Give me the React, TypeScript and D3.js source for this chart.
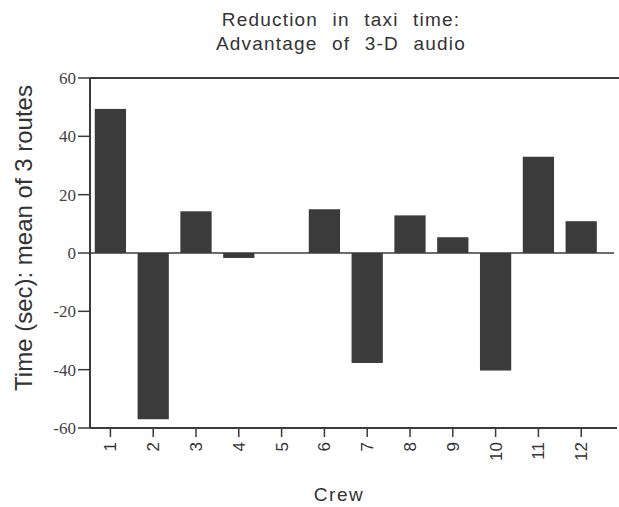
import React from 'react';
import * as d3 from 'd3';

const crews = ['1', '2', '3', '4', '5', '6', '7', '8', '9', '10', '11', '12'];
const reduction = [49.4, -57, 14.3, -1.7, 0, 15, -37.7, 12.9, 5.4, -40.3, 33, 10.9];
const yTicks = [-60, -40, -20, 0, 20, 40, 60];

const titleLines = ['Reduction in taxi time:', 'Advantage of 3-D audio'];
const yLabel = 'Time (sec): mean of 3 routes';
const xLabel = 'Crew';

const width = 619;
const height = 507;
const margin = { top: 78, right: 5, bottom: 79, left: 90 };
const ink = '#3b3b3b';
const sans = 'Liberation Sans, Arial, Helvetica, sans-serif';

const App = () => {
    const y = d3.scaleLinear()
        .domain([-60, 60])
        .range([height - margin.bottom, margin.top]);

    const x = d3.scaleBand<string>()
        .domain(crews)
        .range([margin.left - 1, margin.left - 1 + 12 * 42.8])
        .paddingInner(0.27)
        .paddingOuter(0.135);

    const plotRight = width - margin.right;
    const plotBottom = y(-60);

    return (
        <svg width={width} height={height} style={{ position: 'absolute', left: 0, top: 0, background: '#fff' }}>
            {/* title */}
            <text textAnchor="middle" fontFamily={sans} fontSize={19} fill="#333"
                letterSpacing={1.2} wordSpacing={8}>
                {titleLines.map((t, i) => (
                    <tspan key={t} x={341} y={26 + i * 24}>{t}</tspan>
                ))}
            </text>

            {/* bars */}
            {reduction.map((v, i) => (
                <rect key={crews[i]}
                    x={x(crews[i])}
                    y={y(Math.max(0, v))}
                    width={x.bandwidth()}
                    height={Math.abs(y(v) - y(0))}
                    fill={ink} />
            ))}

            {/* zero line */}
            <line x1={margin.left} x2={plotRight} y1={y(0)} y2={y(0)} stroke={ink} strokeWidth={1.5} />

            {/* frame: left, top, bottom */}
            <line x1={margin.left} x2={margin.left} y1={margin.top} y2={plotBottom} stroke={ink} strokeWidth={2} />
            <line x1={margin.left} x2={width} y1={margin.top} y2={margin.top} stroke={ink} strokeWidth={2} />
            <line x1={margin.left} x2={plotRight + 3} y1={plotBottom} y2={plotBottom} stroke={ink} strokeWidth={2} />

            {/* y ticks */}
            {yTicks.map(t => (
                <g key={t} transform={`translate(0, ${y(t)})`}>
                    <line x1={margin.left - 12} x2={margin.left} stroke={ink} strokeWidth={1.5} />
                    <text x={margin.left - 14} dy="0.35em" textAnchor="end"
                        fontFamily="Liberation Serif, Times New Roman, serif" fontSize={17} fill="#444">
                        {t}
                    </text>
                </g>
            ))}

            {/* x ticks */}
            {crews.map(c => {
                const cx = (x(c) as number) + x.bandwidth() / 2;
                return (
                    <g key={c} transform={`translate(${cx}, ${plotBottom})`}>
                        <line y1={0} y2={9} stroke={ink} strokeWidth={1.5} />
                        <text transform="translate(0, 14) rotate(-90)" dy="0.35em" textAnchor="end"
                            fontFamily={sans} fontSize={17} fill="#333">
                            {c}
                        </text>
                    </g>
                );
            })}

            {/* axis labels */}
            <text transform={`translate(32, 238) rotate(-90)`} textAnchor="middle"
                fontFamily={sans} fontSize={24} fill="#333">
                {yLabel}
            </text>
            <text x={339} y={501} textAnchor="middle"
                fontFamily={sans} fontSize={19} fill="#333" letterSpacing={1.5}>
                {xLabel}
            </text>
        </svg>
    );
};

export default App;
